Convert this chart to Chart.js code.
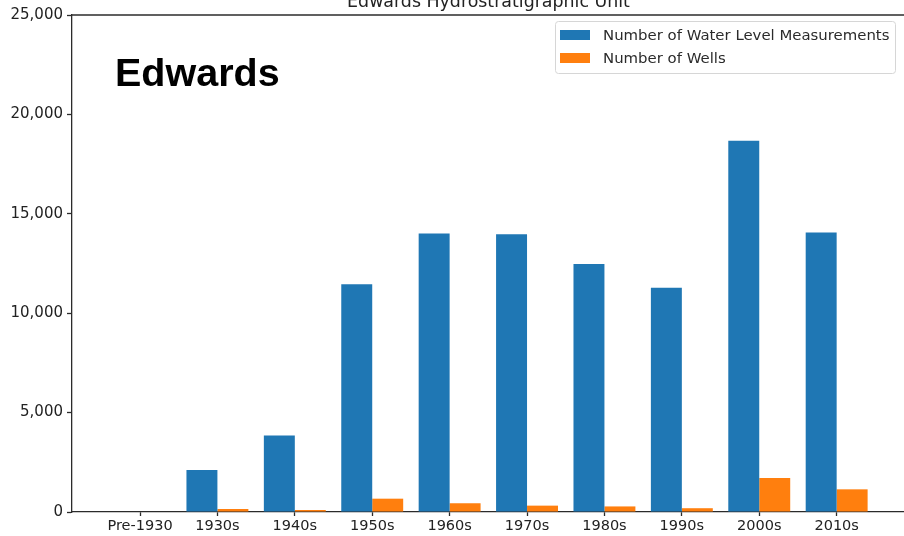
<!DOCTYPE html>
<html>
<head>
<meta charset="utf-8">
<script src="https://cdn.jsdelivr.net/npm/chart.js@4/dist/chart.umd.min.js"></script>
<style>
  html, body { margin: 0; padding: 0; background: #fff; overflow: hidden; }
  #wrap { position: relative; width: 904px; height: 536px; }
  #tag {
    position: absolute; left: 115px; top: 52px;
    font: bold 39.5px "Liberation Sans", Arial, sans-serif;
    line-height: 40px; color: #000;
  }
</style>
</head>
<body>
<div id="wrap">
  <canvas id="grafica" width="904" height="536"></canvas>
  <div id="tag">Edwards</div>
</div>
<script>
"use strict"

// datos
var decadas = ["Pre-1930", "1930s", "1940s", "1950s", "1960s", "1970s", "1980s", "1990s", "2000s", "2010s"];
var mediciones = [0, 2110, 3850, 11460, 14010, 13970, 12480, 11280, 18680, 14060];
var pozos = [0, 150, 100, 670, 440, 320, 280, 190, 1710, 1140];
var ticksY = [0, 5000, 10000, 15000, 20000, 25000];
var titulo = "Edwards Hydrostratigraphic Unit";

var azul = "#1f77b4";
var naranja = "#ff7f0e";
var gris = "#2b2b2b";
var fuente = "'DejaVu Sans', sans-serif";

// plugin para titulo, borde superior y leyenda con marco
var extras = {
    id: "extras",
    afterDraw: function (chart) {
        var ctx = chart.ctx;
        var area = chart.chartArea;
        ctx.save();

        // borde superior
        ctx.strokeStyle = gris;
        ctx.lineWidth = 1.3;
        ctx.beginPath();
        ctx.moveTo(area.left, area.top);
        ctx.lineTo(area.right, area.top);
        ctx.stroke();

        // titulo
        ctx.fillStyle = "#222";
        ctx.font = "17.4px " + fuente;
        ctx.textAlign = "center";
        ctx.textBaseline = "alphabetic";
        ctx.fillText(titulo, (area.left + 905) / 2, 7);

        // leyenda
        var x0 = 555, y0 = 21, w = 340, h = 52;
        ctx.fillStyle = "rgba(255,255,255,0.85)";
        ctx.strokeStyle = "#d6d6d6";
        ctx.lineWidth = 1;
        ctx.beginPath();
        ctx.roundRect(x0 + 0.5, y0 + 0.5, w, h, 3);
        ctx.fill();
        ctx.stroke();

        ctx.font = "14.9px " + fuente;
        ctx.textAlign = "left";
        ctx.textBaseline = "middle";
        chart.data.datasets.forEach(function (ds, i) {
            var cy = 35 + i * 23;
            ctx.fillStyle = ds.backgroundColor;
            ctx.fillRect(560, cy - 5, 30, 10);
            ctx.fillStyle = gris;
            ctx.fillText(ds.label, 603, cy + 1);
        });
        ctx.restore();
    }
};

var toPuntos = function (serie) {
    return serie.map(function (v, i) { return { x: i, y: v }; });
};

new Chart(document.getElementById("grafica"), {
    type: "bar",
    data: {
        datasets: [
            { label: "Number of Water Level Measurements", data: toPuntos(mediciones), backgroundColor: azul },
            { label: "Number of Wells", data: toPuntos(pozos), backgroundColor: naranja }
        ]
    },
    options: {
        responsive: false,
        animation: false,
        layout: { padding: { top: 15, right: 0, bottom: 0, left: 0 } },
        datasets: { bar: { categoryPercentage: 0.8, barPercentage: 1.0, borderWidth: 0 } },
        plugins: {
            legend: { display: false },
            title: { display: false },
            tooltip: { enabled: false }
        },
        scales: {
            x: {
                type: "linear",
                offset: false,
                min: -0.8786,
                max: 9.870,
                afterBuildTicks: function (axis) {
                    axis.ticks = decadas.map(function (d, i) { return { value: i }; });
                },
                afterFit: function (scale) { scale.height = 24; },
                ticks: {
                    autoSkip: false,
                    maxRotation: 0,
                    padding: 2,
                    color: "#222",
                    font: { family: fuente, size: 14.5 },
                    callback: function (v) { return decadas[v]; }
                },
                grid: { offset: false, drawOnChartArea: false, drawTicks: true, tickLength: 4, tickColor: gris, tickWidth: 1.3 },
                border: { display: true, color: gris, width: 1.3 }
            },
            y: {
                min: 0,
                max: 25000,
                afterBuildTicks: function (axis) {
                    axis.ticks = ticksY.map(function (v) { return { value: v }; });
                },
                afterFit: function (scale) { scale.width = 72; },
                ticks: {
                    padding: 4,
                    color: "#222",
                    font: { family: fuente, size: 15 },
                    callback: function (v) { return v.toLocaleString("en-US"); }
                },
                grid: { drawOnChartArea: false, drawTicks: true, tickLength: 5, tickColor: gris, tickWidth: 1.3 },
                border: { display: true, color: gris, width: 1.3 }
            }
        }
    },
    plugins: [extras]
});
</script>
</body>
</html>
